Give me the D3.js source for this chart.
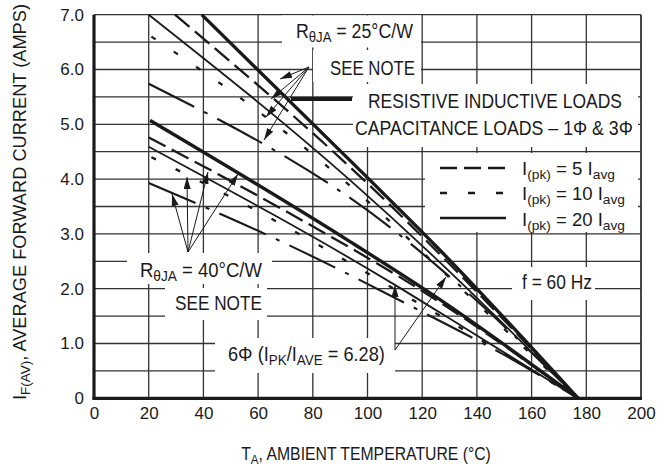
<!DOCTYPE html>
<html>
<head>
<meta charset="utf-8">
<script src="https://cdn.jsdelivr.net/npm/d3@7"></script>
<style>
  body { margin: 0; background: #fff; }
  svg text { font-family: 'Liberation Sans', Arial, sans-serif; fill: #1a1a1a; }
</style>
</head>
<body>
<svg id="chart" width="668" height="472"></svg>
<script>
const tempTicks = [0, 20, 40, 60, 80, 100, 120, 140, 160, 180, 200];
const currentTicks = [0, 1, 2, 3, 4, 5, 6, 7];
const currentTickLabels = ['0', '1.0', '2.0', '3.0', '4.0', '5.0', '6.0', '7.0'];
const gridTemps = [20, 40, 60, 80, 100, 120, 140, 160, 180];
const gridCurrents = [0.5, 1, 1.5, 2, 2.5, 3, 3.5, 4, 4.5, 5, 5.5, 6, 6.5, 7];

// R(theta)JA = 25 C/W  -> [temperature, current]
const r25Resistive = [[39.4, 7.0], [99.7, 4.04], [125, 2.78], [177, 0]];
const r25Cap5 = [[29.6, 7.0], [108.2, 3.53], [130, 2.45], [177, 0]];
const r25SixPhase = [[20, 7.0], [93.6, 3.98], [125, 2.55], [177, 0]];
const r25Cap10 = [[21, 6.6], [60, 5.24], [100, 3.6], [130, 2.2], [177, 0]];
const r25Cap20 = [[20, 5.74], [110.8, 3.02], [135, 2.0], [177, 0]];
// R(theta)JA = 40 C/W
const r40Resistive = [[20.5, 5.07], [93.6, 2.86], [125, 1.85], [177, 0]];
const r40Cap5 = [[20, 4.76], [69.2, 3.44], [125, 1.8], [177, 0]];
const r40SixPhase = [[20, 4.59], [110, 2.07], [135, 1.3], [177, 0]];
const r40Cap10 = [[21, 4.40], [50.9, 3.65], [125, 1.55], [177, 0]];
const r40Cap20 = [[20, 3.93], [66.8, 2.90], [122.2, 1.52], [149, 0.82], [177, 0]];

const styles = {
  resistive: { w: 3.4, dash: null },
  cap5: { w: 2.3, dash: '19,7' },
  six: { w: 1.8, dash: null },
  cap10: { w: 2.3, dash: '5,22' },
  cap20: { w: 2.1, dash: '51,11,4,11' }
};
const curves = [
  [r25Resistive, 'resistive'], [r25Cap5, 'cap5'], [r25SixPhase, 'six'], [r25Cap10, 'cap10'], [r25Cap20, 'cap20'],
  [r40Resistive, 'resistive'], [r40Cap5, 'cap5'], [r40SixPhase, 'six'], [r40Cap10, 'cap10'], [r40Cap20, 'cap20']
];

const svg = d3.select('#chart');
const x = d3.scaleLinear().domain([0, 200]).range([94, 641]);
const y = d3.scaleLinear().domain([0, 7]).range([398.3, 14.7]);
const ink = '#1a1a1a';

// grid
const grid = svg.append('g').attr('stroke', '#333').attr('stroke-width', 1.3);
grid.selectAll('.gx').data(gridTemps).enter().append('line')
  .attr('x1', d => x(d)).attr('x2', d => x(d)).attr('y1', y(0)).attr('y2', y(7));
grid.selectAll('.gy').data(gridCurrents).enter().append('line')
  .attr('x1', x(0)).attr('x2', x(200)).attr('y1', d => y(d)).attr('y2', d => y(d));
grid.append('line').attr('x1', x(200)).attr('x2', x(200)).attr('y1', y(0)).attr('y2', y(7)).attr('stroke-width', 1.8);

// white label boxes that cut the grid
const boxes = [
  [282, 15.5, 139, 32], [313, 50, 108, 32], [353, 84, 285, 63], [425, 153, 213, 79],
  [127, 253, 145, 31], [165, 288, 102, 32], [215, 338, 180, 35], [512, 267, 83, 33]
];
svg.append('g').selectAll('rect').data(boxes).enter().append('rect')
  .attr('x', d => d[0]).attr('y', d => d[1]).attr('width', d => d[2]).attr('height', d => d[3])
  .attr('fill', '#fff');

// curves
const line = d3.line().x(d => x(d[0])).y(d => y(d[1])).curve(d3.curveMonotoneX);
svg.append('g').attr('fill', 'none').attr('stroke', ink).selectAll('path').data(curves).enter().append('path')
  .attr('d', d => line(d[0]))
  .attr('stroke-width', d => styles[d[1]].w)
  .attr('stroke-dasharray', d => styles[d[1]].dash);

// arrows
const defs = svg.append('defs');
defs.append('marker').attr('id', 'head').attr('markerUnits', 'userSpaceOnUse')
  .attr('viewBox', '0 0 12 7').attr('refX', 12).attr('refY', 3.5)
  .attr('markerWidth', 12).attr('markerHeight', 7).attr('orient', 'auto')
  .append('path').attr('d', 'M0,0 L12,3.5 L0,7 Z').attr('fill', ink);
const arrows = [
  [[309, 67], [[280, 79], [271, 99], [266, 117], [264, 140]]],
  [[188, 252], [[172, 194], [187, 177], [208, 172], [238, 174]]],
  [[395, 350], [[395, 285], [446, 277]]]
];
const ag = svg.append('g').attr('stroke', ink).attr('stroke-width', 1);
arrows.forEach(([from, tips]) => {
  tips.forEach(t => ag.append('line').attr('x1', from[0]).attr('y1', from[1])
    .attr('x2', t[0]).attr('y2', t[1]).attr('marker-end', 'url(#head)'));
});

// legend
const legendRows = [['cap5', 168], ['cap10', 193], ['six', 218]];
const legendDash = { cap5: '17,7', cap10: '7,21', six: null };
svg.append('g').attr('stroke', ink).selectAll('line').data(legendRows).enter().append('line')
  .attr('x1', 440).attr('x2', 506).attr('y1', d => d[1]).attr('y2', d => d[1])
  .attr('stroke-width', 2.6).attr('stroke-dasharray', d => legendDash[d[0]]);
svg.append('line').attr('x1', 291).attr('x2', 352).attr('y1', 99).attr('y2', 99)
  .attr('stroke', ink).attr('stroke-width', 3.8);

// text with subscripts, squeezed horizontally to the width seen in the chart
function rich(px, py, parts, size, width, anchor) {
  const t = svg.append('text').attr('x', 0).attr('y', 0).attr('font-size', size)
    .attr('text-anchor', anchor || 'start');
  parts.forEach(([s, sub]) => {
    t.append('tspan').text(s).attr('font-size', sub ? size * 0.74 : size)
      .attr('baseline-shift', sub ? '-28%' : null);
  });
  const w = t.node().getComputedTextLength();
  const sx = width ? width / w : 1;
  t.attr('transform', `translate(${px},${py}) scale(${sx},1)`);
  return t;
}
rich(296, 38, [['R'], ['θJA', 1], [' = 25°C/W']], 19.5, 117);
rich(330, 75, [['SEE NOTE']], 19.5, 85);
rich(368, 108, [['RESISTIVE INDUCTIVE LOADS']], 19.5, 254);
rich(355, 135, [['CAPACITANCE LOADS – 1Φ & 3Φ']], 19.5, 278);
rich(522, 175, [['I'], ['(pk)', 1], [' = 5 I'], ['avg', 1]], 18.5, 93);
rich(522, 200, [['I'], ['(pk)', 1], [' = 10 I'], ['avg', 1]], 18.5, 103);
rich(522, 226, [['I'], ['(pk)', 1], [' = 20 I'], ['avg', 1]], 18.5, 103);
rich(522, 289, [['f = 60 Hz']], 19.5, 70);
rich(140, 277, [['R'], ['θJA', 1], [' = 40°C/W']], 19.5, 122);
rich(175, 310, [['SEE NOTE']], 19.5, 87);
rich(228, 361, [['6Φ (I'], ['PK', 1], ['/I'], ['AVE', 1], [' = 6.28)']], 19.5, 157);

// axes
const xAxis = d3.axisBottom(x).tickValues(tempTicks).tickSize(0).tickPadding(9);
const yAxis = d3.axisLeft(y).tickValues(currentTicks).tickSize(0).tickPadding(10)
  .tickFormat((d, i) => currentTickLabels[i]);
const gx = svg.append('g').attr('transform', `translate(0,${y(0)})`).call(xAxis);
const gy = svg.append('g').attr('transform', `translate(${x(0)},0)`).call(yAxis);
[gx, gy].forEach(g => {
  g.select('.domain').remove();
  g.selectAll('text').attr('font-size', 17).attr('fill', ink)
    .style('font-family', "'Liberation Sans', Arial, sans-serif");
});
svg.append('line').attr('x1', x(0)).attr('x2', x(0)).attr('y1', y(7)).attr('y2', y(0) + 1.5)
  .attr('stroke', ink).attr('stroke-width', 3.2);
svg.append('line').attr('x1', x(0) - 1.5).attr('x2', x(200) + 1).attr('y1', y(0)).attr('y2', y(0))
  .attr('stroke', ink).attr('stroke-width', 3.2);

rich(366, 460, [['T'], ['A', 1], [', AMBIENT TEMPERATURE (°C)']], 18, 250, 'middle');
const yt = rich(0, 0, [['I'], ['F(AV)', 1], [', AVERAGE FORWARD CURRENT (AMPS)']], 18, 396, 'middle');
yt.attr('transform', yt.attr('transform').replace('translate(0,0)', 'translate(26,202) rotate(-90)'));
</script>
</body>
</html>
